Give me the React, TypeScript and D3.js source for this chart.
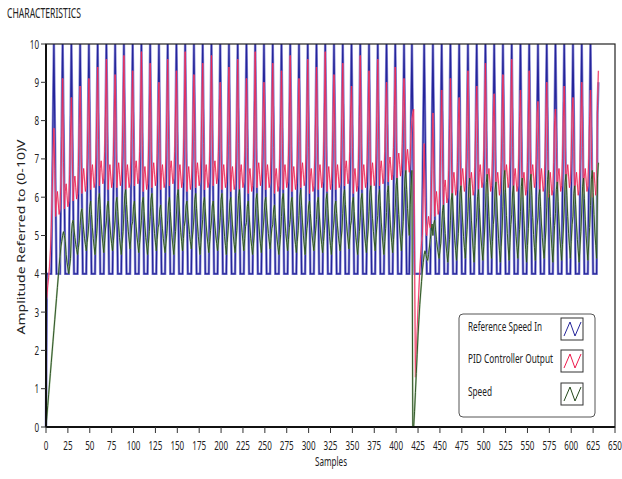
import * as d3 from 'd3';

const W = 622;
const H = 479;

// axis ticks
const xTicks = [0, 25, 50, 75, 100, 125, 150, 175, 200, 225, 250, 275, 300, 325, 350, 375, 400, 425, 450, 475, 500, 525, 550, 575, 600, 625, 650];
const yTicks = [0, 1, 2, 3, 4, 5, 6, 7, 8, 9, 10];

// legend
const seriesNames = ['Reference Speed In', 'PID Controller Output', 'Speed'];
const seriesColors = ['#25259a', '#ee1a4c', '#24481a'];

// one period of each signal, starting at the reference peak
const refShape = [10, 8, 6, 4, 4, 4, 4, 4, 6, 8];
const pidShape = [0, 1.2, 0, 0.45, 0.65, 0.35, 0.05, 0.2, 0.9, 2.0]; // above the cycle low
const speedShape = [0.6, 0.9, 1.0, 0.75, 0.5, 0.3, 0.15, 0, 0.2, 0.4]; // between low and peak

// sample index of every reference peak
const refPeaks = [
  9, 19, 29, 39, 49, 59, 69, 79, 89, 99, 109, 119, 129, 139, 149, 159, 169, 179, 189, 199,
  209, 219, 229, 239, 249, 259, 269, 279, 289, 299, 309, 319, 329, 339, 349, 359, 369, 379, 389, 399,
  409, 418, 432, 442, 452, 462, 472, 482, 492, 502, 512, 522, 532, 542, 552, 562, 572, 582, 592, 602,
  612, 622,
];

// per-cycle levels
const pidPeaks = [
  7.8, 9.1, 8.6, 8.9, 9.1, 9.4, 9.6, 9.2, 9.7, 9.3,
  9.8, 9.5, 9.0, 9.6, 9.3, 9.8, 9.2, 9.5, 9.7, 9.0,
  9.4, 9.6, 9.1, 9.8, 9.0, 9.5, 9.3, 9.7, 9.1, 9.6,
  9.4, 9.8, 9.2, 9.5, 8.9, 9.7, 9.3, 9.6, 9.0, 9.4,
  9.1, 8.3, 7.4, 8.2, 8.8, 9.1, 8.6, 9.3, 8.9, 9.5,
  8.7, 9.2, 9.6, 8.8, 9.3, 8.5, 9.0, 8.3, 8.9, 8.6,
  9.0, 8.8,
];
const pidLows = [
  5.5, 5.7, 5.9, 6.1,
  6.2, 6.3, 6.2, 6.25, 6.2, 6.3, 6.15, 6.25, 6.2, 6.3, 6.2, 6.15, 6.25, 6.2, 6.3, 6.2,
  6.15, 6.2, 6.1, 6.25, 6.2, 6.1, 6.2, 6.15, 6.25, 6.1, 6.2, 6.15, 6.2, 6.3, 6.1, 6.2, 6.25, 6.3, 6.4, 6.5,
  6.6, 5.0, 5.0, 5.5, 5.8, 6.0,
  6.1, 6.0, 6.2, 6.1, 6.0, 6.2, 6.1, 6.0, 6.2, 6.1, 6.0, 6.1, 6.2, 6.0, 6.1, 6.0,
];
const speedPeaks = [
  4.0, 5.0, 5.4, 5.7, 5.9,
  6.1, 5.9, 6.0, 6.2, 5.9, 6.0, 6.1, 5.8, 6.0, 6.2, 5.9, 6.1, 6.0, 5.9, 6.1,
  6.0, 6.2, 5.9, 6.1, 6.0, 5.8, 6.1, 6.0, 6.2, 5.9, 6.0, 6.1, 5.9, 6.2, 6.0, 6.1, 6.3, 6.2,
  6.3, 6.5, 6.7,
  4.6, 4.8, 5.4, 5.8, 6.1,
  6.3, 6.5, 6.2, 6.6, 6.4, 6.7, 6.3, 6.5, 6.6, 6.2, 6.7, 6.4, 6.6, 6.3, 6.5, 6.7,
];
const speedLows = [
  2.5, 4.0, 4.5,
  4.6, 4.5, 4.55, 4.6, 4.5, 4.65, 4.55, 4.5, 4.6, 4.55,
  4.5, 4.6, 4.65, 4.5, 4.55, 4.6, 4.5, 4.55, 4.6, 4.5,
  4.55, 4.65, 4.5, 4.6, 4.55, 4.5, 4.6, 4.55, 4.5, 4.6,
  4.65, 4.5, 4.55, 4.6, 4.5, 4.55, 4.6, 4.7,
  4.3, 4.35,
  4.4, 4.3, 4.35, 4.4, 4.3, 4.35, 4.4, 4.3, 4.35, 4.4,
  4.3, 4.35, 4.4, 4.3, 4.35, 4.4, 4.3, 4.35, 4.4,
];

// start-up (sample 0 onward)
const refStart = [0, 4, 4, 4, 4, 4, 4, 6, 8];
const pidStart = [3.3, 3.4, 3.7, 3.9, 4.2, 4.6, 5.2, 6.0, 7.0];
const speedStart = [0, 0.28, 0.56, 0.84, 1.12, 1.4, 1.68, 1.96, 2.24, 2.52, 2.8, 3.08, 3.36, 3.64, 3.92, 4.2, 4.45, 4.7, 4.85, 5.0, 5.1, 5.0, 4.85];

// disturbance around sample 420 (samples 416..441)
const dipStart = 416;
const pidDip = [7.0, 7.6, 8.0, 8.2, 8.3, 4.6, 1.3, 1.9, 2.5, 3.1, 3.6, 4.1, 4.5, 4.8, 5.0, 6.2, 7.4, 6.0, 5.1, 5.0, 5.3, 5.5, 5.3, 5.2, 5.9, 7.0];
const speedDip = [5.8, 6.3, 6.7, 0, 0, 0.4, 0.9, 1.4, 1.9, 2.4, 2.8, 3.2, 3.5, 3.8, 4.1, 4.3, 4.5, 4.6, 4.5, 4.4, 4.35, 4.5, 4.7, 4.9, 5.1, 5.3];

// last two samples (630, 631)
const refEnd = [8.2, 9.0];
const pidEnd = [8.4, 9.3];
const speedEnd = [6.5, 6.9];

const N = 632;

function shapeIndex(j: number, L: number) {
  if (L === 10 || j < 3) return j;
  if (j >= L - 2) return 10 - (L - j);
  return Math.min(j, 7);
}

function buildSeries() {
  const ref: number[] = new Array(N).fill(4);
  const pid: number[] = new Array(N).fill(6);
  const spd: number[] = new Array(N).fill(5);
  refPeaks.forEach((p, k) => {
    const L = k + 1 < refPeaks.length ? refPeaks[k + 1] - p : N - p;
    for (let j = 0; j < L && p + j < N; j++) {
      const idx = shapeIndex(j, L);
      ref[p + j] = refShape[idx];
      pid[p + j] = idx === 0 ? pidPeaks[k] : pidLows[k] + pidShape[idx];
      spd[p + j] = speedLows[k] + speedShape[idx] * (speedPeaks[k] - speedLows[k]);
    }
  });
  refStart.forEach((v, i) => (ref[i] = v));
  pidStart.forEach((v, i) => (pid[i] = v));
  speedStart.forEach((v, i) => (spd[i] = v));
  pidDip.forEach((v, i) => (pid[dipStart + i] = v));
  speedDip.forEach((v, i) => (spd[dipStart + i] = v));
  refEnd.forEach((v, i) => (ref[N - 2 + i] = v));
  pidEnd.forEach((v, i) => (pid[N - 2 + i] = v));
  speedEnd.forEach((v, i) => (spd[N - 2 + i] = v));
  return [ref, pid, spd];
}

const FONT = "'Noto Sans', 'Open Sans', sans-serif";

export default function App() {
  const x = d3.scaleLinear([0, 650], [46, 615]);
  const y = d3.scaleLinear([0, 10], [427, 44]);
  const [ref, pid, spd] = buildSeries();
  const line = d3.line<number>().x((d, i) => x(i)).y(d => y(d));

  const legX = 459, legY = 314;
  const rows = [331, 363, 396];
  const legendWidths = [74, 85, 24];

  return (
    <svg width={W} height={H} style={{ position: 'absolute', left: 0, top: 0, background: '#fff' }} fontFamily={FONT}>
      <text x={7} y={18} fontSize={14} fill="#222" textLength={74} lengthAdjust="spacingAndGlyphs">CHARACTERISTICS</text>

      {/* series: reference first, then PID output, then speed */}
      <path d={line(ref) ?? ''} fill="none" stroke="#8d8dd6" strokeWidth={2.6} />
      <path d={line(ref) ?? ''} fill="none" stroke={seriesColors[0]} strokeWidth={1.2} />
      <path d={line(pid) ?? ''} fill="none" stroke="#f7a3b7" strokeWidth={1.6} strokeOpacity={0.7} />
      <path d={line(pid) ?? ''} fill="none" stroke={seriesColors[1]} strokeWidth={0.8} />
      <path d={line(spd) ?? ''} fill="none" stroke="#9fbf95" strokeWidth={1.8} strokeOpacity={0.8} />
      <path d={line(spd) ?? ''} fill="none" stroke={seriesColors[2]} strokeWidth={0.9} />

      {/* frame */}
      <rect x={x(0)} y={y(10)} width={x(650) - x(0)} height={y(0) - y(10)} fill="none" stroke="#222" strokeWidth={1.2} />
      <line x1={x(0)} x2={x(0)} y1={y(10)} y2={y(0)} stroke="#111" strokeWidth={2} />
      <line x1={x(0)} x2={x(650)} y1={y(0)} y2={y(0)} stroke="#111" strokeWidth={2} />

      {/* y axis */}
      {yTicks.map(t => (
        <g key={t}>
          <line x1={x(0) - 5} x2={x(0)} y1={y(t)} y2={y(t)} stroke="#333" />
          <text transform={`translate(39,${y(t) + 4.5}) scale(0.62,1)`} textAnchor="end" fontSize={13} fill="#222">{t}</text>
        </g>
      ))}
      {/* x axis */}
      {xTicks.map(t => (
        <g key={t}>
          <line x1={x(t)} x2={x(t)} y1={y(0)} y2={y(0) + 6} stroke="#333" />
          <text transform={`translate(${x(t)},450) scale(0.62,1)`} textAnchor="middle" fontSize={13} fill="#222">{t}</text>
        </g>
      ))}

      <text x={315} y={466} fontSize={12.5} fill="#222" textLength={32} lengthAdjust="spacingAndGlyphs">Samples</text>
      <text transform="translate(25,237) rotate(-90) scale(1,0.8)" textAnchor="middle" fontSize={13} fill="#222" textLength={195} lengthAdjust="spacingAndGlyphs">Amplitude Referred to (0-10)V</text>

      {/* legend */}
      <rect x={legX} y={legY} width={136} height={103} rx={4} fill="#fff" stroke="#555" />
      {seriesNames.map((name, i) => {
        const sy = rows[i] - 13;
        const sx = 561;
        return (
          <g key={name}>
            <text x={468} y={rows[i]} fontSize={12} fill="#222" textLength={legendWidths[i]} lengthAdjust="spacingAndGlyphs">{name}</text>
            <rect x={sx} y={sy} width={22} height={22} fill="#fff" stroke="#333" />
            <polyline points={`${sx + 3},${sy + 18} ${sx + 9},${sy + 4} ${sx + 14},${sy + 18} ${sx + 20},${sy + 4}`} fill="none" stroke={seriesColors[i]} strokeWidth={1} />
          </g>
        );
      })}
    </svg>
  );
}
